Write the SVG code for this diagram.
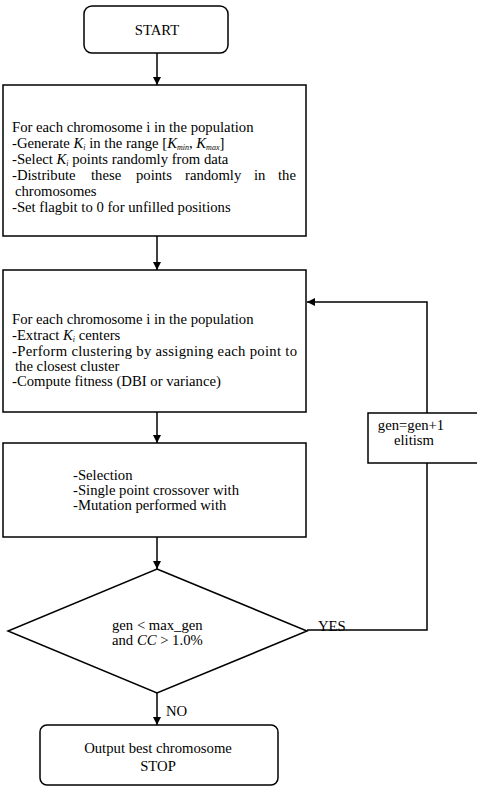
<svg xmlns="http://www.w3.org/2000/svg" width="477" height="786" viewBox="0 0 477 786">
<style>
.box{fill:#fff;stroke:#000;stroke-width:1.5}
.ln{fill:none;stroke:#000;stroke-width:1.5}
text{font-family:"Liberation Serif","Times New Roman","DejaVu Serif",serif;font-size:14.7px;fill:#000}
.c{text-anchor:middle}
.e{text-anchor:end}
.i{font-style:italic}
.s{font-size:8px;font-style:italic}
</style>
<defs>
<marker id="ah" viewBox="0 0 10 10" refX="10" refY="5" markerWidth="8" markerHeight="8" markerUnits="userSpaceOnUse" orient="auto">
<path d="M0,0 L10,5 L0,10 z" fill="#000"/>
</marker>
</defs>
<rect width="477" height="786" fill="#fff"/>
<g id="connectors">
<line class="ln" x1="157" y1="53" x2="157" y2="85" marker-end="url(#ah)"/>
<line class="ln" x1="157" y1="236" x2="157" y2="270" marker-end="url(#ah)"/>
<line class="ln" x1="157" y1="412" x2="157" y2="443" marker-end="url(#ah)"/>
<line class="ln" x1="157" y1="537" x2="157" y2="569" marker-end="url(#ah)"/>
<line class="ln" x1="157" y1="693" x2="157" y2="725" marker-end="url(#ah)"/>
<polyline class="ln" points="307,630 427,630 427,463"/>
<polyline class="ln" points="427,413 427,302 307,302" marker-end="url(#ah)"/>
<text x="318" y="631">YES</text>
<text x="166" y="716">NO</text>
</g>
<g id="start">
<rect class="box" x="84" y="6" width="144" height="47" rx="8"/>
<text class="c" x="157" y="35">START</text>
</g>
<g id="init">
<rect class="box" x="3" y="85" width="303" height="151"/>
<text x="12" y="132">For each chromosome i in the population</text>
<text x="12" y="148">-Generate <tspan class="i">K</tspan><tspan class="s" dy="2">i</tspan><tspan dy="-2"> in the range [</tspan><tspan class="i">K</tspan><tspan class="s" dy="2">min</tspan><tspan dy="-2">, </tspan><tspan class="i">K</tspan><tspan class="s" dy="2">max</tspan><tspan dy="-2">]</tspan></text>
<text x="12" y="164">-Select <tspan class="i">K</tspan><tspan class="s" dy="2">i</tspan><tspan dy="-2"> points randomly from data</tspan></text>
<text y="180"><tspan x="12">-Distribute</tspan><tspan x="91">these</tspan><tspan x="136">points</tspan><tspan x="185">randomly</tspan><tspan x="254">in</tspan><tspan x="278">the</tspan></text>
<text x="15" y="196">chromosomes</text>
<text x="12" y="212">-Set flagbit to 0 for unfilled positions</text>
</g>
<g id="cluster">
<rect class="box" x="3" y="270" width="303" height="142"/>
<text x="12" y="324">For each chromosome i in the population</text>
<text x="12" y="340">-Extract <tspan class="i">K</tspan><tspan class="s" dy="2">i</tspan><tspan dy="-2"> centers</tspan></text>
<text x="12" y="356" textLength="285" lengthAdjust="spacing">-Perform clustering by assigning each point to</text>
<text x="15" y="371">the closest cluster</text>
<text x="12" y="386">-Compute fitness (DBI or variance)</text>
</g>
<g id="ga">
<rect class="box" x="3" y="443" width="303" height="94"/>
<text x="73" y="480">-Selection</text>
<text x="73" y="495">-Single point crossover with</text>
<text x="73" y="510">-Mutation performed with</text>
</g>
<g id="gen">
<rect class="box" x="368" y="413" width="112" height="50"/>
<text class="c" x="411" y="430">gen=gen+1</text>
<text class="c" x="414" y="445">elitism</text>
</g>
<g id="decision">
<polygon class="box" points="157,569 307,631 157,693 8,631"/>
<text x="112" y="630">gen &lt; max_gen</text>
<text x="112" y="645">and <tspan class="i">CC</tspan> &gt; 1.0%</text>
</g>
<g id="stop">
<rect class="box" x="40" y="725" width="238" height="60" rx="7"/>
<text class="c" x="158" y="753">Output best chromosome</text>
<text class="c" x="158" y="771">STOP</text>
</g>
</svg>
